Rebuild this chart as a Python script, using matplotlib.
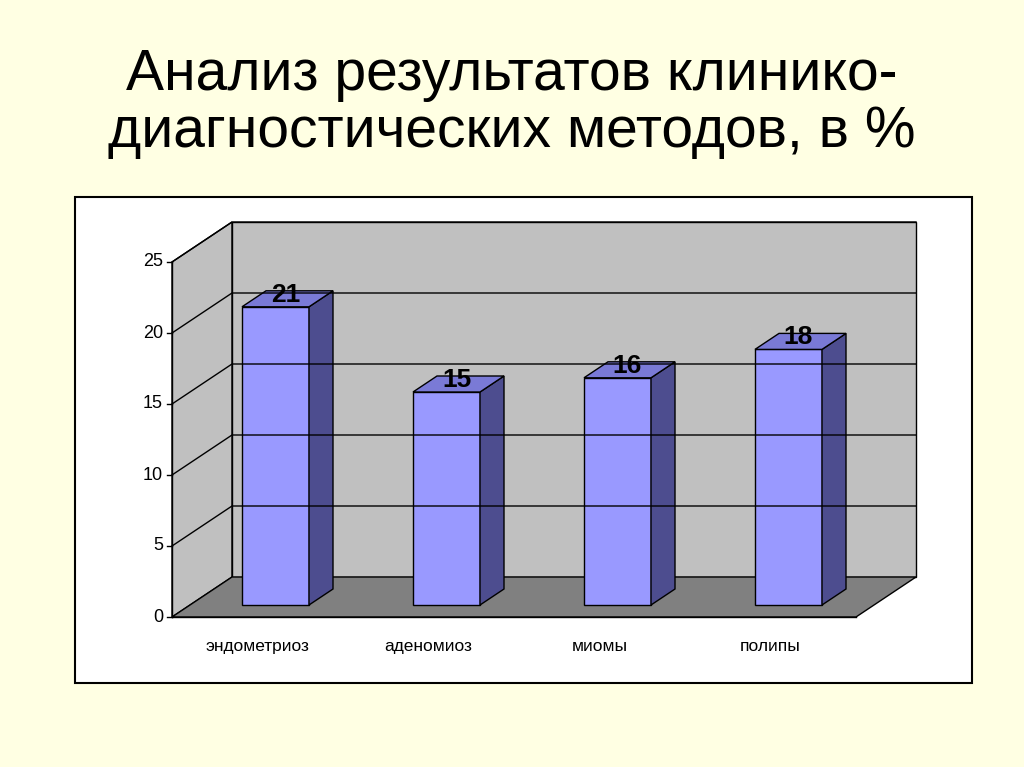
import matplotlib.pyplot as plt
from matplotlib.patches import Polygon, Rectangle

categories = ['эндометриоз', 'аденомиоз', 'миомы', 'полипы']
values = [21, 15, 16, 18]
yticks = [0, 5, 10, 15, 20, 25]

plt.rcParams['font.family'] = ['Liberation Sans', 'DejaVu Sans']

fig = plt.figure(figsize=(10.24, 7.67), dpi=100, facecolor='#FFFFE3')
ax = fig.add_axes([0, 0, 1, 1])
ax.set_xlim(0, 1024)
ax.set_ylim(767, 0)
ax.axis('off')

# layout of the fake 3d box (pixels)
x0, y0 = 172, 617      # front-left origin
ppu = 14.2             # pixels per unit
cat_w = 171            # width per category
dx, dy = 60, -40       # depth of the box
bdx, bdy = 24, -16     # depth of a bar
off_x, off_y = 18, -12 # bar front plane offset
bw = 67
n = len(categories)
xe = x0 + n * cat_w

def py(v, back=0.0):
    return y0 - v * ppu + dy * back

ax.add_patch(Rectangle((75, 197), 897, 486, fc='white', ec='black', lw=1.5))

# walls
ax.add_patch(Polygon([(x0, y0), (x0 + dx, y0 + dy), (x0 + dx, py(25) + dy), (x0, py(25))],
                     fc='#C0C0C0', ec='black', lw=1))
ax.add_patch(Polygon([(x0 + dx, y0 + dy), (xe + dx, y0 + dy), (xe + dx, py(25) + dy), (x0 + dx, py(25) + dy)],
                     fc='#C0C0C0', ec='black', lw=1))
ax.add_patch(Polygon([(x0, y0), (xe, y0), (xe + dx, y0 + dy), (x0 + dx, y0 + dy)],
                     fc='#808080', ec='black', lw=1))
for t in yticks[1:]:
    ax.plot([x0, x0 + dx, xe + dx], [py(t), py(t) + dy, py(t) + dy], color='black', lw=1)
ax.plot([x0, x0], [y0, py(25)], color='black', lw=1)
ax.plot([x0, xe], [y0, y0], color='black', lw=1)
for t in yticks:
    ax.plot([x0 - 5, x0], [py(t), py(t)], color='black', lw=1)
    ax.text(x0 - 9, py(t), str(t), ha='right', va='center', fontsize=13)

for i, (c, v) in enumerate(zip(categories, values)):
    xc = x0 + (i + 0.5) * cat_w
    ax.text(xc, 651, c, ha='center', va='baseline', fontsize=12.5)
    xl = xc + off_x - bw / 2
    xr = xl + bw
    yb = y0 + off_y
    yt = yb - v * ppu
    ax.add_patch(Polygon([(xl, yb), (xr, yb), (xr, yt), (xl, yt)], fc='#9999FF', ec='black', lw=1))
    ax.add_patch(Polygon([(xr, yb), (xr + bdx, yb + bdy), (xr + bdx, yt + bdy), (xr, yt)],
                         fc='#4D4D8F', ec='black', lw=1))
    ax.add_patch(Polygon([(xl, yt), (xr, yt), (xr + bdx, yt + bdy), (xl + bdx, yt + bdy)],
                         fc='#7A7AD6', ec='black', lw=1))
    ax.text(xl + bw / 2 + bdx / 2 - 2, yt - 12, str(v), ha='center', va='center',
            fontsize=19, fontweight='bold')

ax.text(512, 75, 'Анализ результатов клинико-', ha='center', va='center', fontsize=41)
ax.text(512, 132, 'диагностических методов, в %', ha='center', va='center', fontsize=41)

fig.savefig('out.png', dpi=100, facecolor=fig.get_facecolor())
